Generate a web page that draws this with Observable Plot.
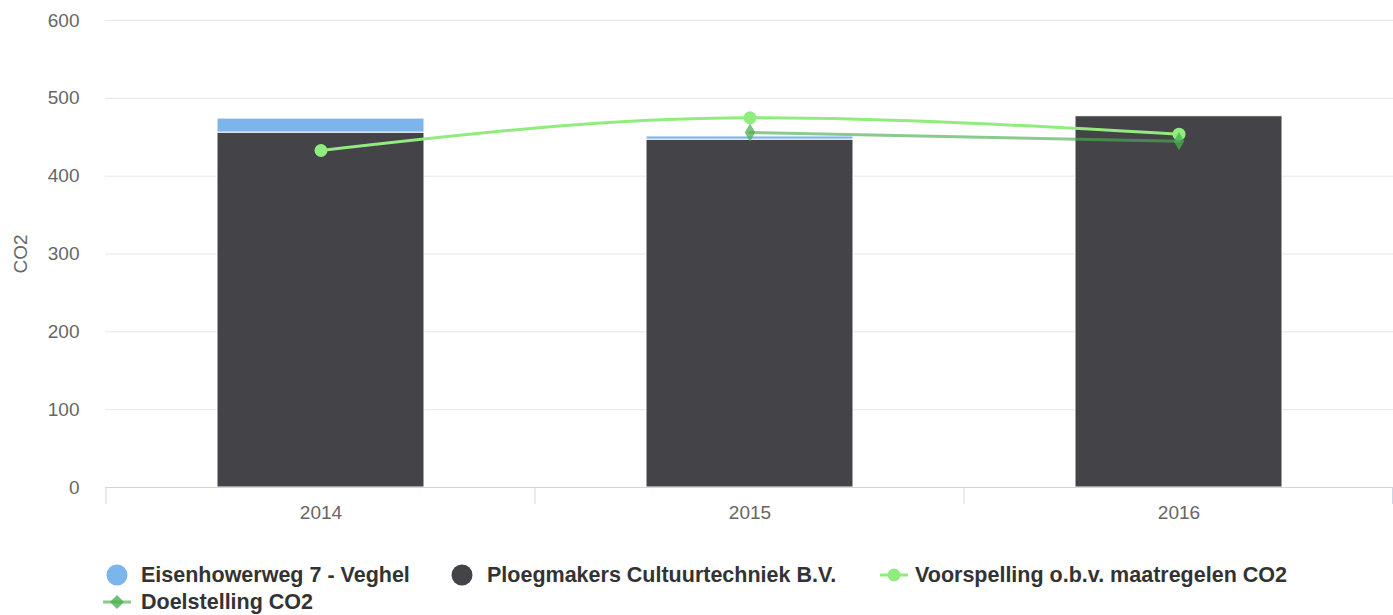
<!DOCTYPE html>
<html><head><meta charset="utf-8">
<script src="https://cdn.jsdelivr.net/npm/d3@7"></script>
<script src="https://cdn.jsdelivr.net/npm/@observablehq/plot@0.6"></script>
<style>
body{margin:0;background:#fff;font-family:"Liberation Sans",Arial,Helvetica,sans-serif;}
#chart svg{display:block;}
#legend{position:relative;width:1393px;height:70px;font-weight:bold;font-size:21.5px;color:#333;}
.sym{position:absolute;display:block;}
.txt{position:absolute;white-space:nowrap;line-height:24px;height:24px;}
</style></head><body>
<div id="chart"></div>
<div id="legend"></div>
<script>
const years = ["2014", "2015", "2016"];
const seriesNames = ["Eisenhowerweg 7 - Veghel", "Ploegmakers Cultuurtechniek B.V.", "Voorspelling o.b.v. maatregelen CO2", "Doelstelling CO2"];
const eisenhower = [18, 4, 0];
const ploegmakers = [456, 447, 477];
const voorspelling = [433, 475, 454];
const doelstelling = [null, 456, 445];
const yTicks = [0, 100, 200, 300, 400, 500, 600];
const yTitle = "CO2";
const colors = ["#7cb5ec", "#434348", "#90ed7d", "#4caf50"];

const bars = [];
years.forEach((yr, i) => {
  bars.push({year: yr, series: seriesNames[1], value: ploegmakers[i]});
  bars.push({year: yr, series: seriesNames[0], value: eisenhower[i]});
});
const forecast = years.map((yr, i) => ({year: yr, value: voorspelling[i]}));
const target = years.map((yr, i) => ({year: yr, value: doelstelling[i]})).filter(d => d.value != null);

const W = 1393;
const bandEdges = (index, scales, values, dims) => {
  const g = d3.create("svg:g");
  const x = scales.x;
  const bw = x.bandwidth();
  const edges = years.map(y => x(y)).concat([x(years[years.length - 1]) + bw]);
  const y0 = dims.height - dims.marginBottom;
  g.append("line").attr("x1", dims.marginLeft).attr("x2", dims.width - dims.marginRight)
    .attr("y1", y0 + 0.5).attr("y2", y0 + 0.5).attr("stroke", "#ccd6eb");
  edges.forEach(e => {
    const xe = Math.min(Math.max(e, dims.marginLeft + 0.5), dims.width - dims.marginRight - 0.5);
    g.append("line").attr("x1", xe).attr("x2", xe).attr("y1", y0).attr("y2", y0 + 17).attr("stroke", "#ccd6eb");
  });
  return g.node();
};

const chart = Plot.plot({
  width: W,
  height: 545,
  marginTop: 20,
  marginBottom: 58,
  marginLeft: 105,
  marginRight: 0,
  style: {fontFamily: '"Liberation Sans", Arial, Helvetica, sans-serif', fontSize: "19px", color: "#666", background: "#fff"},
  x: {domain: years, padding: 0, label: null, tickSize: 0, tickPadding: 18},
  y: {domain: [0, 600], ticks: yTicks, tickSize: 0, tickPadding: 26, label: null},
  color: {domain: seriesNames, range: colors},
  marks: [
    Plot.gridY(yTicks, {stroke: "#e6e6e6", strokeOpacity: 1}),
    Plot.barY(bars, Plot.stackY({x: "year", y: "value", fill: "series", order: seriesNames.slice(0, 2).reverse(), insetLeft: 111, insetRight: 111, stroke: "#fff", strokeWidth: 1})),
    bandEdges,
    Plot.line(forecast, {x: "year", y: "value", stroke: colors[2], strokeWidth: 3, curve: "monotone-x"}),
    Plot.dot(forecast, {x: "year", y: "value", fill: colors[2], r: 6.5}),
    Plot.line(target, {x: "year", y: "value", stroke: colors[3], strokeOpacity: 0.65, strokeWidth: 3}),
    Plot.dot(target, {x: "year", y: "value", fill: colors[3], fillOpacity: 0.75, r: 5.5, symbol: "diamond"}),
    Plot.text([yTitle], {frameAnchor: "left", textAnchor: "middle", rotate: -90, dx: -85, fill: "#666", fontSize: 19})
  ]
});
document.getElementById("chart").appendChild(chart);

// legend
const legend = document.getElementById("legend");
const items = [
  {name: seriesNames[0], type: "circle", color: colors[0], symLeft: 106, textLeft: 141, top: 18},
  {name: seriesNames[1], type: "circle", color: colors[1], symLeft: 451, textLeft: 487, top: 18},
  {name: seriesNames[2], type: "lineCircle", color: colors[2], symLeft: 880, textLeft: 915, top: 18},
  {name: seriesNames[3], type: "lineDiamond", color: colors[3], symLeft: 103, textLeft: 141, top: 45}
];
items.forEach(it => {
  let sym;
  if (it.type === "circle") {
    sym = `<svg class="sym" width="24" height="24"><circle cx="11" cy="12" r="10.5" fill="${it.color}"/></svg>`;
  } else if (it.type === "lineCircle") {
    sym = `<svg class="sym" width="30" height="24"><line x1="0" x2="28" y1="12" y2="12" stroke="${it.color}" stroke-width="3"/><circle cx="14" cy="12" r="6.5" fill="${it.color}"/></svg>`;
  } else {
    sym = `<svg class="sym" width="30" height="24"><line x1="0" x2="28" y1="12" y2="12" stroke="${it.color}" stroke-opacity="0.65" stroke-width="3"/><path d="M14,5 L21,12 L14,19 L7,12 Z" fill="${it.color}" fill-opacity="0.8"/></svg>`;
  }
  const wrap = document.createElement("div");
  wrap.innerHTML = sym;
  const s = wrap.firstChild;
  s.style.left = it.symLeft + "px";
  s.style.top = it.top + "px";
  legend.appendChild(s);
  const t = document.createElement("div");
  t.className = "txt";
  t.style.left = it.textLeft + "px";
  t.style.top = it.top + "px";
  t.textContent = it.name;
  legend.appendChild(t);
});
</script>
</body></html>
